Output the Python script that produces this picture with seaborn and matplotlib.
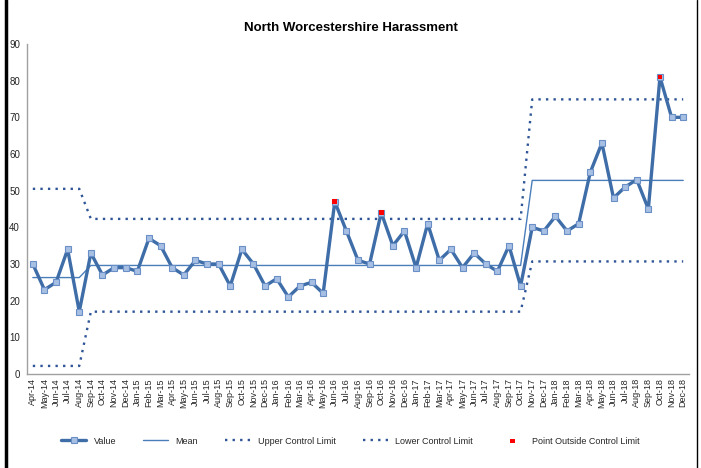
import numpy as np
import pandas as pd
import matplotlib
matplotlib.use("Agg")
import matplotlib.pyplot as plt
import seaborn as sns

# Data
months = ["Apr-14", "May-14", "Jun-14", "Jul-14", "Aug-14", "Sep-14", "Oct-14", "Nov-14", "Dec-14",
          "Jan-15", "Feb-15", "Mar-15", "Apr-15", "May-15", "Jun-15", "Jul-15", "Aug-15", "Sep-15",
          "Oct-15", "Nov-15", "Dec-15", "Jan-16", "Feb-16", "Mar-16", "Apr-16", "May-16", "Jun-16",
          "Jul-16", "Aug-16", "Sep-16", "Oct-16", "Nov-16", "Dec-16", "Jan-17", "Feb-17", "Mar-17",
          "Apr-17", "May-17", "Jun-17", "Jul-17", "Aug-17", "Sep-17", "Oct-17", "Nov-17", "Dec-17",
          "Jan-18", "Feb-18", "Mar-18", "Apr-18", "May-18", "Jun-18", "Jul-18", "Aug-18", "Sep-18",
          "Oct-18", "Nov-18", "Dec-18"]
values = [30, 23, 25, 34, 17, 33, 27, 29, 29,
          28, 37, 35, 29, 27, 31, 30, 30, 24,
          34, 30, 24, 26, 21, 24, 25, 22, 47,
          39, 31, 30, 44, 35, 39, 29, 41, 31,
          34, 29, 33, 30, 28, 35, 24, 40, 39,
          43, 39, 41, 55, 63, 48, 51, 53, 45,
          81, 70, 70]
mean = [26.3] * 5 + [29.6] * 38 + [52.8] * 14
ucl = [50.5] * 5 + [42.3] * 38 + [74.9] * 14
lcl = [2.2] * 5 + [17.0] * 38 + [30.7] * 14
outside_months = ["Jun-16", "Oct-16", "Oct-18"]
outside_values = [47, 44, 81]

df = pd.DataFrame({"month": months, "value": values, "mean": mean, "ucl": ucl, "lcl": lcl})
df["x"] = np.arange(len(df))
out_df = pd.DataFrame({"x": [months.index(m) for m in outside_months], "value": outside_values})

sns.set_style("white")
plt.rcParams['font.family'] = ['Liberation Sans', 'DejaVu Sans']

fig = plt.figure(figsize=(7.01, 4.68), dpi=100)
ax = fig.add_axes([27 / 701, 1 - 374 / 468, 662 / 701, 330 / 468])

line_col = "#3E6DA8"
lim_col = "#2F5597"

sns.lineplot(data=df, x="x", y="ucl", ax=ax, color=lim_col, lw=1.7, linestyle=(0, (1, 2.2)),
             label="Upper Control Limit", zorder=2)
sns.lineplot(data=df, x="x", y="lcl", ax=ax, color=lim_col, lw=1.7, linestyle=(0, (1, 2.2)),
             label="Lower Control Limit", zorder=2)
sns.lineplot(data=df, x="x", y="mean", ax=ax, color="#4A7EBB", lw=1, label="Mean", zorder=3)
sns.lineplot(data=df, x="x", y="value", ax=ax, color=line_col, lw=2.4, marker="s", markersize=5,
             markerfacecolor="#A7BFE3", markeredgecolor="#6A8FC7", markeredgewidth=0.8,
             label="Value", zorder=4)
sns.scatterplot(data=out_df, x="x", y="value", ax=ax, color="#FF0000", marker="s", s=11,
                edgecolor="none", label="Point Outside Control Limit", zorder=5)

ax.set_xlim(-0.5, len(months) - 0.5)
ax.set_ylim(0, 90)
ax.set_yticks(range(0, 91, 10))
ax.set_xticks(df["x"])
ax.set_xticklabels(months, rotation=90, fontsize=6.5)
ax.tick_params(axis="y", labelsize=7, length=3, color="#A0A0A0", pad=2)
ax.tick_params(axis="x", length=0, pad=3)
ax.set_xlabel("")
ax.set_ylabel("")
for s in ["top", "right"]:
    ax.spines[s].set_visible(False)
for s in ["left", "bottom"]:
    ax.spines[s].set_color("#A0A0A0")
    ax.spines[s].set_linewidth(1)

fig.text(0.5, 1 - 28 / 468, "North Worcestershire Harassment", ha="center", va="center",
         fontsize=9.5, fontweight="bold", color="black")

handles, labels = ax.get_legend_handles_labels()
order = [labels.index(l) for l in ["Value", "Mean", "Upper Control Limit", "Lower Control Limit",
                                   "Point Outside Control Limit"]]
ax.legend([handles[i] for i in order], [labels[i] for i in order], loc="center",
          bbox_to_anchor=(0.5, 1 - 441 / 468), bbox_transform=fig.transFigure, ncol=5,
          frameon=False, fontsize=6.5, handlelength=2.8, columnspacing=3)

# chart border
fig.add_artist(plt.Line2D([6 / 701, 6 / 701], [0, 1], color="black", lw=2.5))
fig.add_artist(plt.Line2D([697 / 701, 697 / 701], [0, 1], color="black", lw=1))

fig.savefig("out.png", dpi=100)
